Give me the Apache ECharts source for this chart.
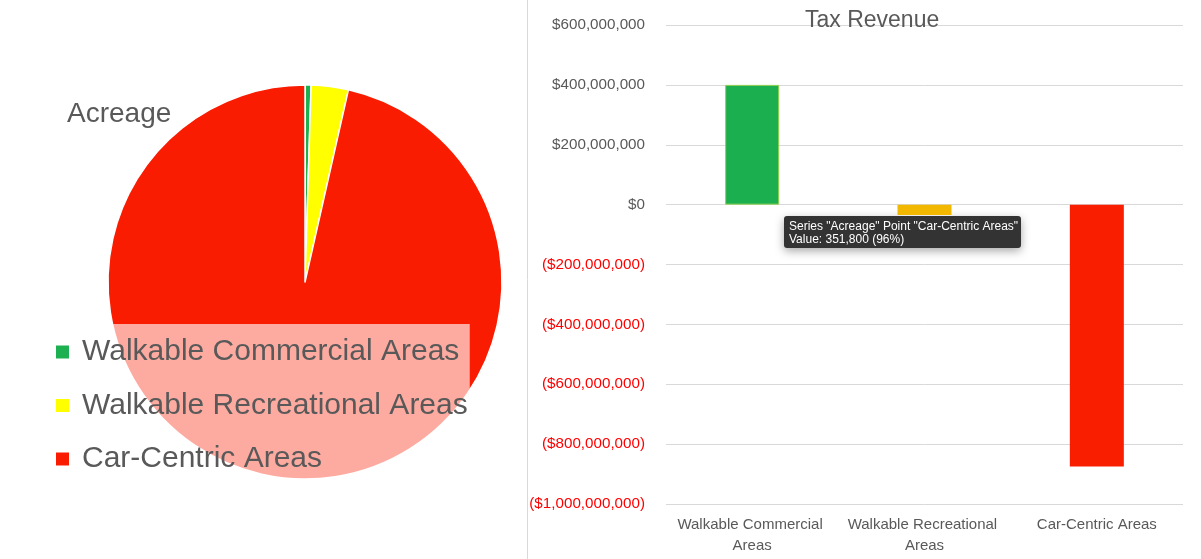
<!DOCTYPE html>
<html lang="en">
<head>
<meta charset="UTF-8">
<title>Acreage and Tax Revenue</title>
<script src="https://cdn.jsdelivr.net/npm/echarts@6/dist/echarts.min.js"></script>
<style>
html, body { margin: 0; padding: 0; background: #fff; }
#chart { width: 1201px; height: 559px; }
</style>
</head>
<body>
<div id="chart"></div>
<script>
// data
const categories = ['Walkable Commercial Areas', 'Walkable Recreational Areas', 'Car-Centric Areas'];
const acreage = [1800, 11100, 351800];
const taxRevenue = [400000000, -35000000, -875000000];
const sliceColors = ['#1DB050', '#FFFF00', '#FA1C00'];
const barColors = ['#1CAF50', '#F2B800', '#FA1E00'];
const yTicks = { min: -1000000000, max: 600000000, interval: 200000000 };

const textGray = '#595959';
const font = 'Liberation Sans, Arial, sans-serif';

const fmtMoney = v => {
  const s = '$' + Math.abs(v).toLocaleString('en-US');
  return v < 0 ? '(' + s + ')' : s;
};

// the hover tip that is visible in the reference (last slice)
const total = acreage.reduce((a, b) => a + b, 0);
const tipIdx = 2;
const tipText = 'Series "Acreage" Point "' + categories[tipIdx] + '"\n' +
  'Value: ' + acreage[tipIdx].toLocaleString('en-US') +
  ' (' + Math.round(acreage[tipIdx] / total * 100) + '%)';

const chart = echarts.init(document.getElementById('chart'));

const option = {
  animation: false,
  textStyle: { fontFamily: font },
  title: [
    {
      text: 'Acreage',
      left: 62,
      top: 95,
      textStyle: { fontFamily: font, fontSize: 28, fontWeight: 'normal', color: textGray }
    },
    {
      text: 'Tax Revenue',
      left: 800,
      top: 4,
      textStyle: { fontFamily: font, fontSize: 23, fontWeight: 'normal', color: textGray }
    }
  ],
  legend: {
    orient: 'vertical',
    left: 44,
    top: 324,
    data: categories,
    icon: 'rect',
    itemWidth: 15,
    itemHeight: 15,
    itemGap: 23.5,
    padding: [13, 2, 12, 10],
    backgroundColor: 'rgba(255,255,255,0.63)',
    selectedMode: false,
    textStyle: { fontFamily: font, fontSize: 30, color: textGray, padding: [0, 0, 0, 7] }
  },
  grid: {
    left: 666,
    right: 18,
    top: 25,
    bottom: 55
  },
  xAxis: {
    type: 'category',
    data: categories,
    axisLine: { show: false, onZero: false },
    axisTick: { show: false },
    axisLabel: {
      color: textGray,
      fontFamily: font,
      fontSize: 15,
      lineHeight: 21,
      margin: 10,
      width: 165,
      overflow: 'break',
      interval: 0
    }
  },
  yAxis: {
    type: 'value',
    min: yTicks.min,
    max: yTicks.max,
    interval: yTicks.interval,
    axisLine: { show: false },
    axisTick: { show: false },
    splitLine: { lineStyle: { color: '#D9D9D9', width: 1 } },
    axisLabel: {
      margin: 21,
      fontFamily: font,
      fontSize: 15.2,
      formatter: fmtMoney,
      color: v => (Number(v) < 0 ? '#FF0000' : textGray)
    }
  },
  series: [
    {
      name: 'Acreage',
      type: 'pie',
      center: [305, 282],
      radius: 197,
      startAngle: 90,
      clockwise: true,
      label: { show: false },
      labelLine: { show: false },
      emphasis: { disabled: true },
      itemStyle: { borderColor: '#fff', borderWidth: 1.5 },
      data: categories.map((c, i) => ({
        name: c,
        value: acreage[i],
        itemStyle: { color: sliceColors[i] }
      }))
    },
    {
      name: 'Tax Revenue',
      type: 'bar',
      barWidth: 54,
      emphasis: { disabled: true },
      data: taxRevenue.map((v, i) => ({
        value: v,
        itemStyle: i === 0
          ? { color: barColors[i], borderColor: '#92D050', borderWidth: 1 }
          : { color: barColors[i] }
      }))
    }
  ],
  graphic: [
    {
      type: 'line',
      shape: { x1: 527.5, y1: 0, x2: 527.5, y2: 559 },
      style: { stroke: '#D9D9D9', lineWidth: 1 },
      silent: true
    },
    {
      type: 'group',
      left: 784,
      top: 216,
      z: 100,
      children: [
        {
          type: 'rect',
          shape: { x: 0, y: 0, width: 237, height: 32, r: 3 },
          style: {
            fill: '#333333',
            shadowBlur: 10,
            shadowColor: 'rgba(0,0,0,0.35)',
            shadowOffsetY: 3
          }
        },
        {
          type: 'text',
          x: 5,
          y: 4,
          style: {
            text: tipText,
            fill: '#ffffff',
            font: '12px ' + font,
            lineHeight: 13
          }
        }
      ]
    }
  ]
};

chart.setOption(option);
window.addEventListener('resize', () => chart.resize());
</script>
</body>
</html>
